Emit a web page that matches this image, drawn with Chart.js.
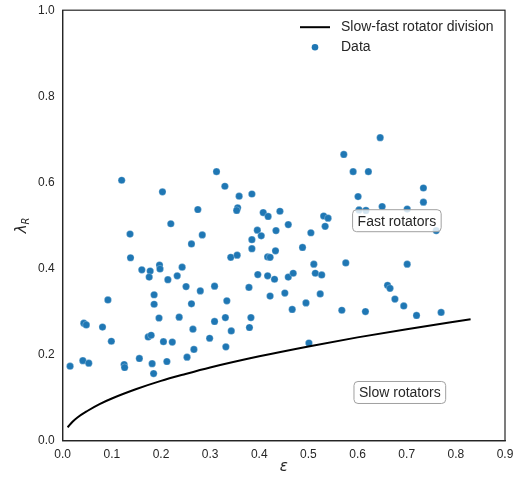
<!DOCTYPE html>
<html>
<head>
<meta charset="utf-8">
<script src="https://cdn.jsdelivr.net/npm/chart.js@4/dist/chart.umd.min.js"></script>
<style>
  html, body { margin: 0; padding: 0; background: #fff; }
  #wrap { width: 523px; height: 483px; }
</style>
</head>
<body>
<div id="wrap"><canvas id="myChart" width="523" height="483"></canvas></div>
<script>
// data
const epsilon = [
  0.120, 0.203, 0.275, 0.220, 0.137, 0.284, 0.262, 0.138, 0.572, 0.591,
  0.313, 0.330, 0.359, 0.385, 0.356, 0.354, 0.408, 0.418, 0.442, 0.459,
  0.396, 0.404, 0.434, 0.385, 0.385, 0.505, 0.488, 0.531, 0.540, 0.534,
  0.342, 0.355, 0.417, 0.422, 0.433, 0.646, 0.622, 0.734, 0.601, 0.734,
  0.603, 0.617, 0.650, 0.701, 0.760, 0.576, 0.701, 0.661, 0.666, 0.676,
  0.694, 0.720, 0.770, 0.568, 0.616, 0.161, 0.178, 0.176, 0.197, 0.198,
  0.243, 0.233, 0.214, 0.251, 0.280, 0.092, 0.186, 0.186, 0.262, 0.196,
  0.237, 0.043, 0.048, 0.081, 0.265, 0.299, 0.174, 0.180, 0.099, 0.205,
  0.223, 0.267, 0.015, 0.041, 0.053, 0.125, 0.126, 0.156, 0.182, 0.212,
  0.253, 0.185, 0.511, 0.397, 0.417, 0.431, 0.459, 0.469, 0.514, 0.527,
  0.309, 0.379, 0.422, 0.452, 0.524, 0.334, 0.495, 0.467, 0.331, 0.383,
  0.309, 0.343, 0.380, 0.332, 0.501
];
const lambdaR = [
  0.605, 0.578, 0.537, 0.504, 0.480, 0.478, 0.457, 0.425, 0.665, 0.625,
  0.625, 0.591, 0.568, 0.573, 0.541, 0.535, 0.530, 0.521, 0.533, 0.502,
  0.489, 0.476, 0.488, 0.467, 0.446, 0.483, 0.449, 0.522, 0.517, 0.498,
  0.426, 0.431, 0.427, 0.426, 0.441, 0.704, 0.625, 0.587, 0.567, 0.554,
  0.536, 0.535, 0.544, 0.538, 0.488, 0.413, 0.410, 0.361, 0.354, 0.329,
  0.313, 0.291, 0.298, 0.303, 0.300, 0.397, 0.394, 0.380, 0.408, 0.399,
  0.403, 0.383, 0.374, 0.358, 0.348, 0.327, 0.339, 0.317, 0.318, 0.285,
  0.287, 0.273, 0.269, 0.264, 0.259, 0.238, 0.241, 0.245, 0.231, 0.230,
  0.229, 0.212, 0.173, 0.186, 0.180, 0.177, 0.170, 0.191, 0.179, 0.184,
  0.194, 0.156, 0.410, 0.386, 0.383, 0.375, 0.380, 0.389, 0.389, 0.385,
  0.359, 0.356, 0.336, 0.343, 0.341, 0.325, 0.320, 0.305, 0.286, 0.286,
  0.277, 0.255, 0.263, 0.218, 0.227
];

// division line
const divEps = [0.01, 0.02, 0.03, 0.05, 0.075, 0.1, 0.15, 0.2, 0.25, 0.3, 0.4, 0.5, 0.6, 0.7, 0.83];
const divLambda = [0.031, 0.044, 0.054, 0.069, 0.085, 0.098, 0.120, 0.139, 0.155, 0.170, 0.196, 0.219, 0.240, 0.259, 0.282];

const xTicks = [0, 0.1, 0.2, 0.3, 0.4, 0.5, 0.6, 0.7, 0.8, 0.9];
const yTicks = [0, 0.2, 0.4, 0.6, 0.8, 1.0];

const labels = [
  { text: 'Fast rotators', x: 0.68, y: 0.511 },
  { text: 'Slow rotators', x: 0.686, y: 0.112 }
];

const FONT = '"Liberation Sans", Arial, sans-serif';
const TEXT_COLOR = '#262626';

function roundRect(ctx, x, y, w, h, r) {
  ctx.beginPath();
  ctx.moveTo(x + r, y);
  ctx.lineTo(x + w - r, y);
  ctx.quadraticCurveTo(x + w, y, x + w, y + r);
  ctx.lineTo(x + w, y + h - r);
  ctx.quadraticCurveTo(x + w, y + h, x + w - r, y + h);
  ctx.lineTo(x + r, y + h);
  ctx.quadraticCurveTo(x, y + h, x, y + h - r);
  ctx.lineTo(x, y + r);
  ctx.quadraticCurveTo(x, y, x + r, y);
  ctx.closePath();
}

const extras = {
  id: 'extras',
  afterDatasetsDraw(chart) {
    const ctx = chart.ctx;
    const xs = chart.scales.x, ys = chart.scales.y;
    const area = chart.chartArea;

    // annotation boxes
    ctx.save();
    ctx.font = '14px ' + FONT;
    ctx.textAlign = 'center';
    ctx.textBaseline = 'middle';
    labels.forEach(l => {
      const cx = xs.getPixelForValue(l.x);
      const cy = ys.getPixelForValue(l.y);
      const w = ctx.measureText(l.text).width + 10;
      const h = 22;
      roundRect(ctx, cx - w / 2, cy - h / 2, w, h, 4);
      ctx.fillStyle = 'rgba(255,255,255,0.8)';
      ctx.fill();
      ctx.strokeStyle = '#a0a0a0';
      ctx.lineWidth = 1;
      ctx.stroke();
      ctx.fillStyle = TEXT_COLOR;
      ctx.fillText(l.text, cx, cy + 1);
    });
    ctx.restore();

    // legend
    ctx.save();
    const lx = area.right - 205;
    ctx.strokeStyle = '#000';
    ctx.lineWidth = 2;
    ctx.beginPath();
    ctx.moveTo(lx, area.top + 17);
    ctx.lineTo(lx + 30, area.top + 17);
    ctx.stroke();
    ctx.fillStyle = '#1f77b4';
    ctx.beginPath();
    ctx.arc(lx + 15, area.top + 37, 3.3, 0, Math.PI * 2);
    ctx.fill();
    ctx.font = '14px ' + FONT;
    ctx.fillStyle = TEXT_COLOR;
    ctx.textAlign = 'left';
    ctx.textBaseline = 'middle';
    ctx.fillText('Slow-fast rotator division', lx + 41, area.top + 17);
    ctx.fillText('Data', lx + 41, area.top + 37);
    ctx.restore();

    // frame
    ctx.save();
    ctx.strokeStyle = '#262626';
    ctx.lineWidth = 1.2;
    ctx.strokeRect(area.left, area.top, area.right - area.left, area.bottom - area.top);
    ctx.restore();

    // axis titles
    ctx.save();
    ctx.fillStyle = TEXT_COLOR;
    ctx.font = 'italic 15px "DejaVu Sans", sans-serif';
    ctx.textAlign = 'center';
    ctx.textBaseline = 'middle';
    ctx.fillText('ε', (area.left + area.right) / 2, 467);
    ctx.translate(22, (area.top + area.bottom) / 2);
    ctx.rotate(-Math.PI / 2);
    ctx.textAlign = 'left';
    ctx.font = 'italic 15px "DejaVu Sans", sans-serif';
    const lw = ctx.measureText('λ').width;
    ctx.font = 'italic 10px "DejaVu Sans", sans-serif';
    const rw = ctx.measureText('R').width;
    const start = -(lw + rw) / 2;
    ctx.font = 'italic 15px "DejaVu Sans", sans-serif';
    ctx.fillText('λ', start, 0);
    ctx.font = 'italic 10px "DejaVu Sans", sans-serif';
    ctx.fillText('R', start + lw, 4);
    ctx.restore();
  }
};

const ctx = document.getElementById('myChart').getContext('2d');
const myChart = new Chart(ctx, {
  type: 'scatter',
  data: {
    datasets: [
      {
        label: 'Slow-fast rotator division',
        type: 'line',
        data: divEps.map((e, i) => ({ x: e, y: divLambda[i] })),
        borderColor: '#000',
        borderWidth: 2,
        pointRadius: 0,
        fill: false,
        cubicInterpolationMode: 'monotone',
        order: 0
      },
      {
        label: 'Data',
        data: epsilon.map((e, i) => ({ x: e, y: lambdaR[i] })),
        backgroundColor: '#1f77b4',
        borderColor: 'rgba(255,255,255,0.5)',
        borderWidth: 0.5,
        pointRadius: 3.6,
        order: 1
      }
    ]
  },
  options: {
    responsive: false,
    animation: false,
    layout: { padding: { left: 0, right: 18, top: 10, bottom: 0 } },
    plugins: {
      legend: { display: false },
      tooltip: { enabled: false }
    },
    scales: {
      x: {
        type: 'linear',
        min: 0,
        max: 0.9,
        afterBuildTicks: axis => { axis.ticks = xTicks.map(v => ({ value: v })); },
        afterFit: axis => { axis.height = 42.3; },
        grid: { display: false, drawTicks: true, tickLength: 5, tickColor: '#262626' },
        border: { display: true, color: '#262626', width: 1.2 },
        ticks: {
          color: TEXT_COLOR,
          font: { family: FONT, size: 12 },
          padding: 2,
          maxRotation: 0,
          callback: v => v.toFixed(1)
        }
      },
      y: {
        type: 'linear',
        min: 0,
        max: 1,
        afterBuildTicks: axis => { axis.ticks = yTicks.map(v => ({ value: v })); },
        afterFit: axis => { axis.width = 62.7; },
        grid: { display: false, drawTicks: true, tickLength: 5, tickColor: '#262626' },
        border: { display: true, color: '#262626', width: 1.2 },
        ticks: {
          color: TEXT_COLOR,
          font: { family: FONT, size: 12 },
          padding: 3,
          callback: v => v.toFixed(1)
        }
      }
    }
  },
  plugins: [extras]
});
</script>
</body>
</html>
